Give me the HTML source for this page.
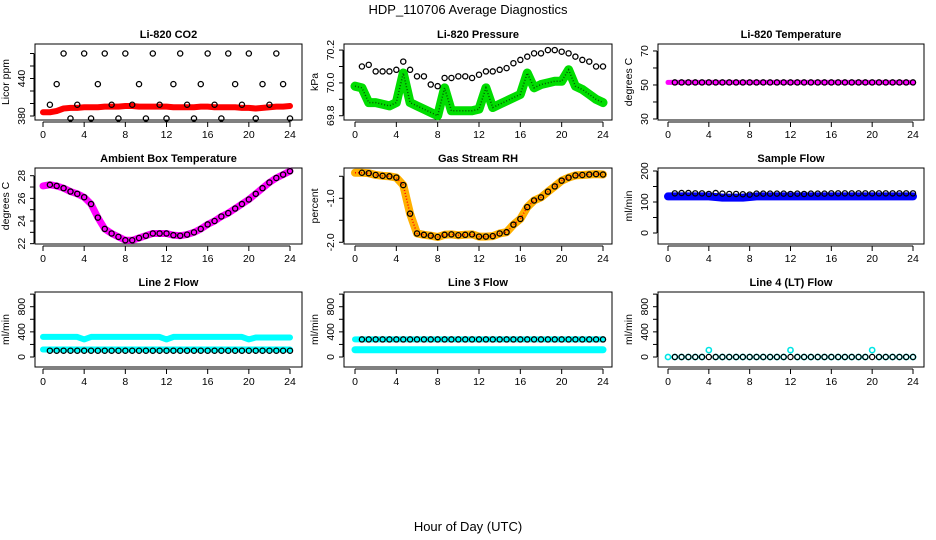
<!DOCTYPE html>
<html><head><meta charset="utf-8"><style>
body{margin:0;background:#fff;}
svg{display:block;font-family:"Liberation Sans",sans-serif;}
</style></head><body>
<svg id="chart" width="936" height="540" viewBox="0 0 936 540" xmlns="http://www.w3.org/2000/svg">
<text x="468" y="14" text-anchor="middle" font-size="13">HDP_110706  Average Diagnostics</text>
<text x="468" y="531" text-anchor="middle" font-size="13">Hour of Day (UTC)</text>
</svg>
<script>
const hours=[0,0.67,1.33,2,2.67,3.33,4,4.67,5.33,6,6.67,7.33,8,8.67,9.33,10,10.67,11.33,12,12.67,13.33,14,14.67,15.33,16,16.67,17.33,18,18.67,19.33,20,20.67,21.33,22,22.67,23.33,24];
const xTickLabels=[0,4,8,12,16,20,24];
const co2Red=[386,386,388,392,393,393,394,394,394,395,395,395,396,396,395,395,395,395,395,394,394,394,394,395,395,394,394,394,394,393,393,392,393,394,395,395,396];
const co2Black=[398,398,431,480,376,398,480,376,431,480,398,376,480,398,431,376,480,398,376,431,480,398,376,431,480,398,376,480,431,398,480,376,431,398,480,431,376];
const presGreen=[69.98,69.97,69.88,69.88,69.87,69.86,69.88,70.06,69.88,69.86,69.84,69.82,69.80,69.97,69.83,69.83,69.83,69.83,69.84,69.97,69.85,69.87,69.89,69.91,69.93,70.06,69.97,69.99,70.0,70.01,70.01,70.08,69.98,69.96,69.93,69.90,69.88];
const presBlack=[70.10,70.10,70.11,70.07,70.07,70.07,70.08,70.13,70.08,70.04,70.04,69.99,69.98,70.03,70.03,70.04,70.04,70.03,70.05,70.07,70.07,70.08,70.09,70.12,70.14,70.16,70.18,70.18,70.20,70.20,70.19,70.18,70.16,70.14,70.13,70.10,70.10];
const tempMag=[51.5,51.5,51.5,51.5,51.5,51.5,51.5,51.5,51.5,51.5,51.5,51.5,51.5,51.5,51.5,51.5,51.5,51.5,51.5,51.5,51.5,51.5,51.5,51.5,51.5,51.5,51.5,51.5,51.5,51.5,51.5,51.5,51.5,51.5,51.5,51.5,51.5];
const tempBlack=tempMag.slice();
const ambient=[27.1,27.2,27.1,26.9,26.6,26.4,26.1,25.5,24.3,23.3,22.9,22.6,22.3,22.3,22.5,22.7,22.9,22.9,22.9,22.75,22.7,22.8,23.0,23.3,23.7,24.0,24.4,24.7,25.1,25.5,25.9,26.4,26.9,27.4,27.8,28.1,28.4];
const rh=[-0.42,-0.42,-0.43,-0.47,-0.49,-0.5,-0.53,-0.7,-1.35,-1.8,-1.83,-1.85,-1.88,-1.83,-1.82,-1.84,-1.83,-1.82,-1.87,-1.87,-1.86,-1.8,-1.77,-1.6,-1.47,-1.2,-1.05,-0.98,-0.85,-0.73,-0.6,-0.53,-0.48,-0.47,-0.46,-0.45,-0.46];
const sampleBlue=[118,118,118,118,118,118,118,116,114,114,114,114,116,118,118,118,118,118,118,118,118,118,118,118,118,118,118,118,118,118,118,118,118,118,118,118,118];
const sampleBlack=[128,128,129,129,128,128,126,129,127,126,126,125,124,127,127,127,127,127,126,127,126,127,127,127,128,128,128,128,128,128,128,128,128,128,128,128,128];
const line2High=[320,320,320,320,320,320,280,320,320,320,320,320,320,320,320,320,320,320,280,320,320,320,320,320,320,320,320,320,320,320,280,310,310,310,310,310,310];
const line2Low=[120,120,120,120,120,120,120,120,120,120,120,120,120,120,120,120,120,120,120,120,120,120,120,120,120,120,120,120,120,120,120,120,120,120,120,120,120];
const line2Black=[100,100,100,100,100,100,100,100,100,100,100,100,100,100,100,100,100,100,100,100,100,100,100,100,100,100,100,100,100,100,100,100,100,100,100,100,100];
const line3High=[280,280,280,280,280,280,280,280,280,280,280,280,280,280,280,280,280,280,280,280,280,280,280,280,280,280,280,280,280,280,280,280,280,280,280,280,280];
const line3Low=[115,115,115,115,115,115,115,115,115,115,115,115,115,115,115,115,115,115,115,115,115,115,115,115,115,115,115,115,115,115,115,115,115,115,115,115,115];
const line3Black=line3High.slice();
const line4Cyan=[0,0,0,0,0,0,110,0,0,0,0,0,0,0,0,0,0,0,110,0,0,0,0,0,0,0,0,0,0,0,110,0,0,0,0,0,0];
const line4Black=[0,0,0,0,0,0,0,0,0,0,0,0,0,0,0,0,0,0,0,0,0,0,0,0,0,0,0,0,0,0,0,0,0,0,0,0,0];

const svg=document.getElementById('chart');
const NS='http://www.w3.org/2000/svg';
function mk(tag,attrs,parent){const e=document.createElementNS(NS,tag);for(const k in attrs)e.setAttribute(k,attrs[k]);(parent||svg).appendChild(e);return e;}
const cols=[{bx0:35,bx1:302,t0:43,t24:290},{bx0:344,bx1:612,t0:355,t24:603},{bx0:658,bx1:924,t0:668,t24:913}];
const rows=[{y0:44,y1:120},{y0:168,y1:244},{y0:292,y1:367}];

function panel(r,c,title,ylab,ymin,ymax,ticks,labels,fmt,series,name){
  const C=cols[c],R=rows[r];
  const g=mk('g',{});
  
  
  const xs=t=>C.t0+(C.t24-C.t0)*t/24;
  const ys=v=>R.y1-(v-ymin)/(ymax-ymin)*(R.y1-R.y0);
  const box=mk('rect',{x:C.bx0,y:R.y0,width:C.bx1-C.bx0,height:R.y1-R.y0,fill:'none',stroke:'#000','stroke-width':1},g);
  
  
  const tt=mk('text',{x:(C.bx0+C.bx1)/2,y:R.y0-6,'text-anchor':'middle','font-size':11,'font-weight':'bold'},g);
  tt.textContent=title;
  
  
  // x axis
  const xa=mk('line',{x1:xs(0),x2:xs(24),y1:R.y1+2,y2:R.y1+2,stroke:'#000'},g);
  
  
  xTickLabels.forEach(t=>{
    mk('line',{x1:xs(t),x2:xs(t),y1:R.y1+2,y2:R.y1+7,stroke:'#000'},g);
    const l=mk('text',{x:xs(t),y:R.y1+18,'text-anchor':'middle','font-size':10.5},g);
    l.textContent=t;
    
    
  });
  // y axis
  const ya=mk('line',{x1:C.bx0-1,x2:C.bx0-1,y1:ys(ticks[0]),y2:ys(ticks[ticks.length-1]),stroke:'#000'},g);
  
  
  ticks.forEach(v=>{mk('line',{x1:C.bx0-5,x2:C.bx0-1,y1:ys(v),y2:ys(v),stroke:'#000'},g);});
  labels.forEach(v=>{
    const x=C.bx0-10,y=ys(v);
    const l=mk('text',{x:x,y:y,'text-anchor':'middle','font-size':10.5,transform:`rotate(-90 ${x} ${y})`},g);
    l.textContent=fmt(v);
    
    
  });
  const yx=C.bx0-26,yy=(R.y0+R.y1)/2;
  const yl=mk('text',{x:yx,y:yy,'text-anchor':'middle','font-size':10.5,transform:`rotate(-90 ${yx} ${yy})`},g);
  yl.textContent=ylab;
  
  
  series.forEach(s=>{
    const sg=mk('g',{},g);
    
    
    if(s.band){
      const pts=hours.map((t,i)=>xs(t)+','+ys(s.vals[i])).join(' ');
      mk('polyline',{points:pts,fill:'none',stroke:s.color,'stroke-width':s.band,'stroke-linejoin':'round','stroke-linecap':'round'},sg);
      if(s.dot) mk('polyline',{points:pts,fill:'none',stroke:s.dot,'stroke-width':1.5,'stroke-dasharray':'1 2'},sg);
    } else {
      hours.forEach((t,i)=>{
        if(s.skip0&&i===0)return;
        const ci=mk('circle',{cx:xs(t),cy:ys(s.vals[i]),r:s.r||2.6,fill:s.fill||'none',stroke:s.color,'stroke-width':s.sw||1.3},sg);
        
        
      });
    }
  });
}
const f0=v=>String(v), f1=v=>v.toFixed(1);
panel(0,0,'Li-820 CO2','Licor ppm',373.6,495.2,[380,400,420,440,460,480],[380,440],f0,
 [{name:'red-series',vals:co2Red,color:'#ff0000',band:6},{name:'black-series',vals:co2Black,color:'#000',skip0:true}],'co2');
panel(0,1,'Li-820 Pressure','kPa',69.774,70.237,[69.8,69.9,70.0,70.1,70.2],[69.8,70.0,70.2],f1,
 [{name:'green-series',vals:presGreen,color:'#00dd00',band:9,dot:'#005500'},{name:'black-series',vals:presBlack,color:'#000',skip0:true}],'pressure');
panel(0,2,'Li-820 Temperature','degrees C',29.4,74.1,[30,40,50,60,70],[30,50,70],f0,
 [{name:'magenta-series',vals:tempMag,color:'#ff00ff',band:5},{name:'black-series',vals:tempBlack,color:'#000',skip0:true}],'temperature');
panel(1,0,'Ambient Box Temperature','degrees C',21.97,28.68,[22,23,24,25,26,27,28],[22,24,26,28],f0,
 [{name:'magenta-series',vals:ambient,color:'#ff00ff',band:7},{name:'black-series',vals:ambient,color:'#000',skip0:true}],'ambient');
panel(1,1,'Gas Stream RH','percent',-2.039,-0.312,[-2,-1.5,-1,-0.5],[-2,-1],f1,
 [{name:'orange-series',vals:rh,color:'#ffb000',band:8,dot:'#ff0000'},{name:'black-series',vals:rh,color:'#000',skip0:true}],'rh');
panel(1,2,'Sample Flow','ml/min',-35.5,209.7,[0,50,100,150,200],[0,100,200],f0,
 [{name:'blue-series',vals:sampleBlue,color:'#0000ff',band:8},{name:'black-series',vals:sampleBlack,color:'#000',skip0:true}],'sample-flow');
panel(2,0,'Line 2 Flow','ml/min',-159,1034,[0,200,400,600,800,1000],[0,400,800],f0,
 [{name:'cyan-high',vals:line2High,color:'#00ffff',band:6},{name:'cyan-low',vals:line2Low,color:'#00ffff',band:6},{name:'black-series',vals:line2Black,color:'#000',skip0:true}],'line2');
panel(2,1,'Line 3 Flow','ml/min',-159,1034,[0,200,400,600,800,1000],[0,400,800],f0,
 [{name:'cyan-high',vals:line3High,color:'#00ffff',band:6},{name:'cyan-low',vals:line3Low,color:'#00ffff',band:7},{name:'black-series',vals:line3Black,color:'#000',skip0:true}],'line3');
panel(2,2,'Line 4 (LT) Flow','ml/min',-159,1034,[0,200,400,600,800,1000],[0,400,800],f0,
 [{name:'cyan-series',vals:line4Cyan,color:'#00e5e5',sw:1.6},{name:'black-series',vals:line4Black,color:'#000',skip0:true}],'line4');
</script>
</body></html>
